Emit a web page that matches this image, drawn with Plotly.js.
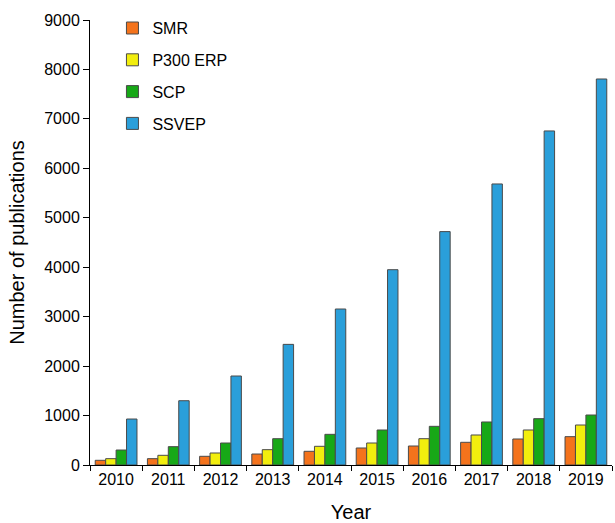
<!DOCTYPE html>
<html>
<head>
<meta charset="utf-8">
<script src="https://cdn.plot.ly/plotly-3.0.1.min.js"></script>
<style>html,body{margin:0;padding:0;background:#fff;}#chart{width:615px;height:523px;}</style>
</head>
<body>
<div id="chart"></div>
<script>
const years = ["2010","2011","2012","2013","2014","2015","2016","2017","2018","2019"];
const smr   = [95, 128, 176, 222, 277, 344, 384, 459, 526, 573];
const p300  = [128, 196, 243, 310, 378, 445, 532, 607, 708, 809];
const scp   = [303, 371, 445, 532, 620, 708, 782, 870, 937, 1011];
const ssvep = [930, 1300, 1800, 2440, 3155, 3950, 4720, 5684, 6756, 7807];

const names = ["SMR", "P300 ERP", "SCP", "SSVEP"];
const colors = ["#F4731C", "#F2EE0E", "#17A817", "#2A9FDA"];
const series = [smr, p300, scp, ssvep];

const traces = series.map((vals, i) => ({
  type: "bar",
  name: names[i],
  x: years,
  y: vals,
  legendgroup: "g" + i,
  marker: {color: colors[i], line: {color: "#4a4a4a", width: 1}}
}));

const layout = {
  width: 615, height: 523,
  margin: {l: 90, r: 3, t: 20, b: 58},
  paper_bgcolor: "#fff", plot_bgcolor: "#fff",
  barmode: "group",
  bargap: 0.2,
  bargroupgap: 0,
  font: {family: "Arial, Liberation Sans, sans-serif", color: "#000"},
  showlegend: true,
  legend: {
    x: 0.043, y: 1.02, xanchor: "left", yanchor: "top",
    bgcolor: "rgba(0,0,0,0)",
    font: {size: 16, color: "#000"},
    traceorder: "grouped",
    tracegroupgap: 8,
    itemwidth: 30
  },
  xaxis: {
    type: "category",
    showline: true, linecolor: "#000", linewidth: 1,
    ticks: "outside", ticklen: 5, tickcolor: "#000", tickson: "boundaries",
    showgrid: false, zeroline: false,
    tickfont: {size: 16},
    title: {text: "Year", font: {size: 20}, standoff: 18}
  },
  yaxis: {
    range: [0, 9000],
    dtick: 1000,
    showline: true, linecolor: "#000", linewidth: 1,
    ticks: "outside", ticklen: 6, tickcolor: "#000",
    showgrid: false, zeroline: false,
    tickfont: {size: 16},
    title: {text: "Number of publications", font: {size: 20}, standoff: 14}
  }
};

Plotly.newPlot("chart", traces, layout, {displayModeBar: false, staticPlot: true});
</script>
</body>
</html>
